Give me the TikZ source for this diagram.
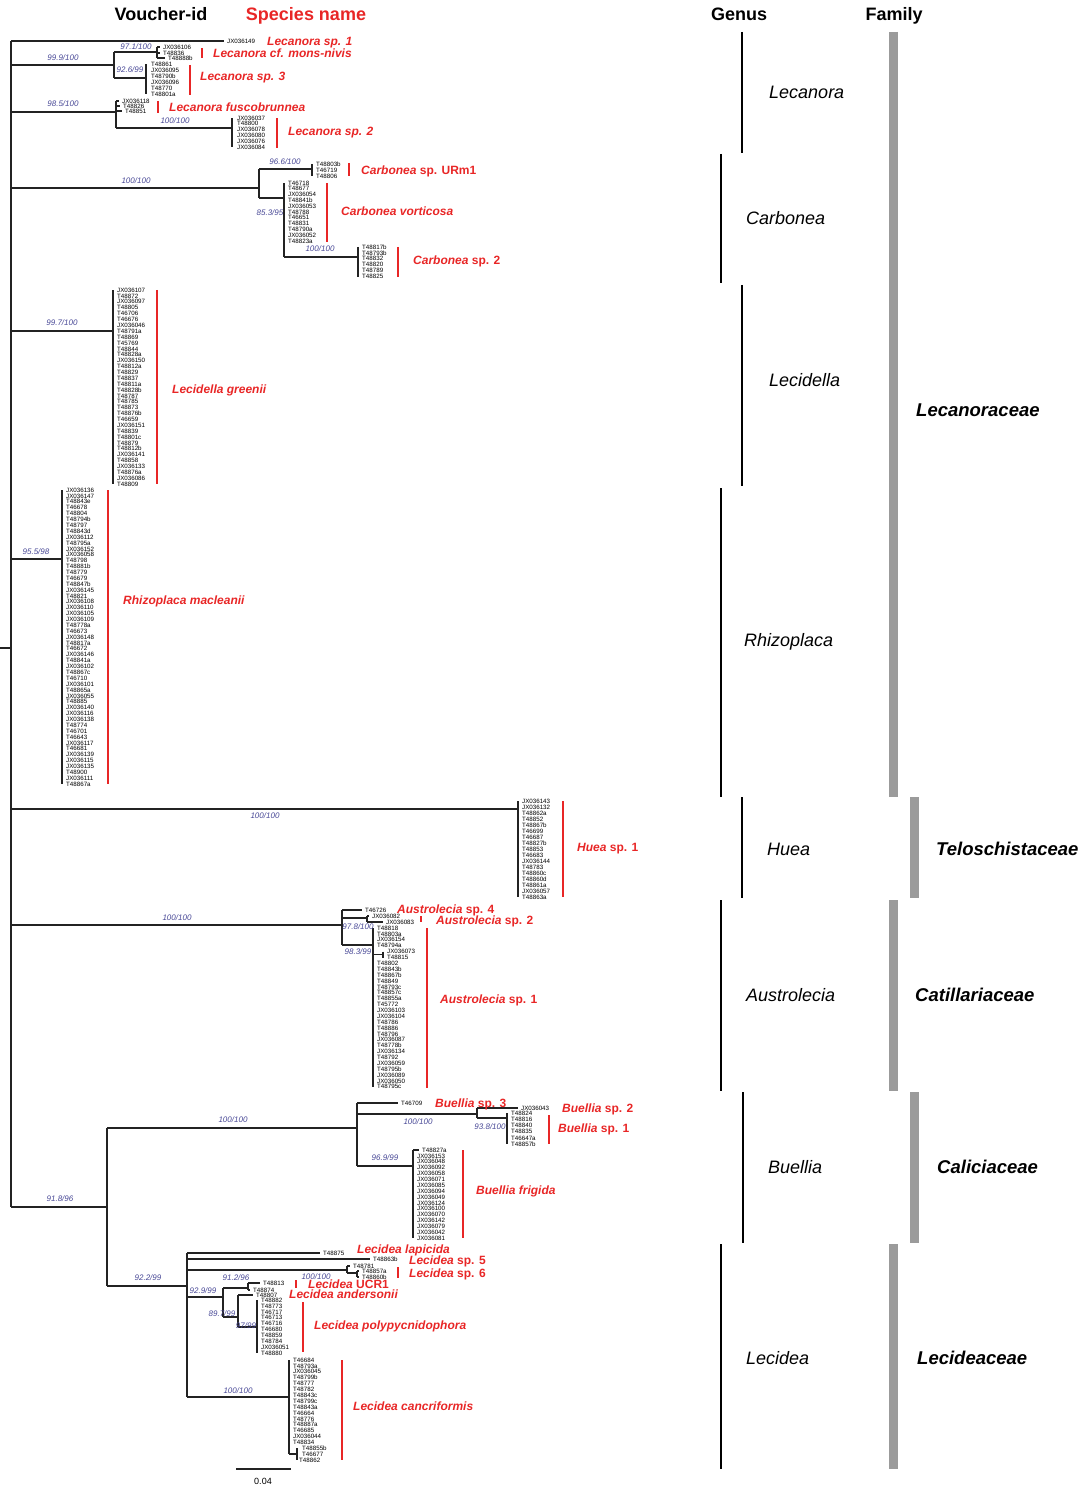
\documentclass[tikz,border=0pt]{standalone}
\usepackage{fontspec}
\setmainfont{Liberation Sans}
\definecolor{spred}{RGB}{232,38,38}
\definecolor{supblue}{RGB}{72,72,150}
\definecolor{famgray}{RGB}{155,155,155}
\definecolor{brgray}{RGB}{35,35,35}
\tikzset{
  br/.style={draw=brgray, line width=1.1pt},
  vid/.style={anchor=base west, inner sep=0pt, yshift=-2.2pt, font=\fontsize{6.2}{6.2}\selectfont},
  sup/.style={anchor=base, inner sep=0pt, yshift=-2.9pt, text=supblue, font=\fontsize{8}{8}\selectfont\itshape},
  sptext/.style={anchor=base west, inner sep=0pt, yshift=-4.3pt, text=spred, font=\fontsize{12}{12}\selectfont\bfseries\itshape},
  spbar/.style={draw=spred, line width=1.2pt},
  genbar/.style={draw=black, line width=2pt},
  gentext/.style={anchor=base west, inner sep=0pt, yshift=-6.4pt, font=\fontsize{18}{18}\selectfont\itshape},
  fambar/.style={draw=famgray, line width=9pt},
  famtext/.style={anchor=base west, inner sep=0pt, yshift=-6.6pt, font=\fontsize{18.5}{18.5}\selectfont\bfseries\itshape},
  head/.style={anchor=base, inner sep=0pt, yshift=-6.4pt, font=\fontsize{18}{18}\selectfont\bfseries},
  sbtext/.style={anchor=base, inner sep=0pt, yshift=-3.2pt, font=\fontsize{9}{9}\selectfont},
}
\newcommand\vlist[5]{\foreach \vv [count=\i from 0] in {#5} {\node[vid] (#1-\i) at ({#2},{#3+\i*#4}) {\vv};}}
\newcommand\tipleaf[5]{\coordinate (#1) at (#3,#4); \draw[br] (#2 |- #1) -- (#1); \node[vid] (#1-t) at ({#3+3},#4) {#5};}
\begin{document}
\begin{tikzpicture}[x=1pt,y=-1pt]
\useasboundingbox (0,0) rectangle (1079,1487);
% headers
\node[head] (hv) at (161,14) {Voucher-id};
\node[head,text=spred] (hs) at (306,14) {Species name};
\node[head] (hg) at (739,14) {Genus};
\node[head] (hf) at (894,14) {Family};

% ---------- root ----------
\coordinate (root) at (11,648);
\coordinate (rootstub) at (0,648);
\draw[br] (rootstub) -- (root);
\coordinate (L1) at (114,65);
\coordinate (L2) at (116,112);
\coordinate (C) at (259,188);
\coordinate (LG) at (113,331);
\coordinate (RM) at (62,559);
\coordinate (HU) at (518,809);
\coordinate (AU) at (342,925);
\coordinate (BL) at (107,1207);
\tipleaf{t1}{root}{224}{41}{JX036149}
\draw[br] (root |- t1) -- (root |- BL);
\foreach \c in {L1,L2,C,LG,RM,HU,AU,BL} \draw[br] (root |- \c) -- (\c);

% ---------- Lecanora ----------
\coordinate (M) at (157,52);
\coordinate (N) at (146,78);
\draw[br] (L1 |- M) -- (L1 |- N);
\draw[br] (L1 |- M) -- (M);
\draw[br] (L1 |- N) -- (N);
\tipleaf{m1}{M}{160}{47}{JX036106}
\tipleaf{m2}{M}{160}{53}{T48836}
\tipleaf{m3}{M}{165}{58}{T48888b}
\draw[br] (M |- m1) -- (M |- m3);
\vlist{n}{151}{64}{6}{T48861,JX036095,T48790b,JX036096,T48770,T48801a}
\draw[br] (N |- n-0) -- (N |- n-5);
\coordinate (O) at (232,128);
\tipleaf{f1}{L2}{119}{101}{JX036118}
\tipleaf{f2}{L2}{120}{106}{T48826}
\tipleaf{f3}{L2}{122}{111}{T48851}
\draw[br] (L2 |- f1) -- (L2 |- O);
\draw[br] (L2 |- O) -- (O);
\vlist{o}{237}{118}{5.8}{JX036037,T48800,JX036078,JX036080,JX036076,JX036084}
\draw[br] (O |- o-0) -- (O |- o-5);

% ---------- Carbonea ----------
\coordinate (P) at (312,169);
\coordinate (Q) at (284,198);
\draw[br] (C |- P) -- (C |- Q);
\draw[br] (C |- P) -- (P);
\draw[br] (C |- Q) -- (Q);
\vlist{p}{316}{164}{6}{T48803b,T46719,T48806}
\draw[br] (P |- p-0) -- (P |- p-2);
\coordinate (R) at (358,257);
\vlist{q}{288}{183}{5.8}{T46718,T48677,JX036054,T48841b,JX036053,T48788,T46651,T48831,T48790a,JX036052,T48823a}
\draw[br] (Q |- q-0) -- (Q |- R);
\draw[br] (Q |- R) -- (R);
\vlist{r}{362}{247}{5.9}{T48817b,T48793b,T48832,T48820,T48789,T48825}
\draw[br] (R |- r-0) -- (R |- r-5);

% ---------- Lecidella ----------
\vlist{lg}{117}{290}{5.88}{JX036107,T48872,JX036097,T48805,T46706,T46676,JX036046,T48791a,T48869,T45769,T48844,T48828a,JX036150,T48812a,T48829,T48837,T48811a,T48828b,T48787,T48785,T48873,T48876b,T46659,JX036151,T48839,T48801c,T48879,T48812b,JX036141,T48858,JX036133,T48876a,JX036086,T48809}
\draw[br] (LG |- lg-0) -- (LG |- lg-33);

% ---------- Rhizoplaca ----------
\vlist{rm}{66}{490}{5.88}{JX036136,JX036147,T48843e,T46678,T48804,T48794b,T48797,T48843d,JX036112,T48795a,JX036152,JX036058,T48798,T48881b,T48779,T46679,T48847b,JX036145,T48821,JX036108,JX036110,JX036105,JX036109,T48778a,T46673,JX036148,T48817a,T46672,JX036146,T48841a,JX036102,T48867c,T46710,JX036101,T48865a,JX036055,T48885,JX036140,JX036116,JX036138,T48774,T46701,T46643,JX036117,T46681,JX036139,JX036115,JX036135,T48900,JX036111,T48867a}
\draw[br] (RM |- rm-0) -- (RM |- rm-50);

% ---------- Huea ----------
\vlist{hu}{522}{801}{6}{JX036143,JX036132,T48862a,T48852,T48867b,T46699,T46687,T48827b,T48853,T46683,JX036144,T48783,T48860c,T48860d,T48861a,JX036057,T48863a}
\draw[br] (HU |- hu-0) -- (HU |- hu-16);

% ---------- Austrolecia ----------
\coordinate (AU2) at (367,918);
\coordinate (AS1) at (373,945);
\tipleaf{a1}{AU}{362}{910}{T46726}
\draw[br] (AU |- a1) -- (AU |- AS1);
\draw[br] (AU |- AU2) -- (AU2);
\draw[br] (AU |- AS1) -- (AS1);
\tipleaf{a2}{AU2}{369}{916}{JX036082}
\tipleaf{a3}{AU2}{383}{922}{JX036083}
\draw[br] (AU2 |- a2) -- (AU2 |- a3);
\vlist{as}{377}{928}{5.88}{T48818,T48803a,JX036154,T48794a}
\coordinate (AS2) at (383,954.5);
\draw[br] (AS1 |- AS2) -- (AS2);
\node[vid] (as2-0) at (387,951.6) {JX036073};
\node[vid] (as2-1) at (387,957.5) {T48815};
\draw[br] (AS2 |- as2-0) -- (AS2 |- as2-1);
\foreach \vv [count=\i from 6] in {T48802,T48843b,T48867b,T48849,T48793c,T48857c,T48855a,T45772,JX036103,JX036104,T48786,T48886,T48796,JX036087,T48778b,JX036134,T48792,JX036059,T48795b,JX036089,JX036050,T48795c} {\node[vid] (as-\i) at (377,{928+\i*5.88}) {\vv};}
\draw[br] (AS1 |- as-0) -- (AS1 |- as-27);

% ---------- Buellia ----------
\coordinate (B) at (357,1128);
\coordinate (LD) at (187,1286);
\draw[br] (BL |- B) -- (BL |- LD);
\draw[br] (BL |- B) -- (B);
\draw[br] (BL |- LD) -- (LD);
\coordinate (B2) at (477,1114);
\coordinate (BF) at (413,1166);
\tipleaf{b1}{B}{398}{1103}{T46709}
\draw[br] (B |- b1) -- (B |- BF);
\draw[br] (B |- B2) -- (B2);
\draw[br] (B |- BF) -- (BF);
\coordinate (B3) at (507,1118);
\tipleaf{b2}{B2}{518}{1108}{JX036043}
\draw[br] (B2 |- b2) -- (B2 |- B3);
\draw[br] (B2 |- B3) -- (B3);
\vlist{bb}{511}{1113}{6.2}{T48824,T48816,T48840,T48835,T46647a,T48857b}
\draw[br] (B3 |- bb-0) -- (B3 |- bb-5);
\tipleaf{bf0}{BF}{419}{1150}{T48827a}
\foreach \vv [count=\i from 1] in {JX036153,JX036048,JX036092,JX036058,JX036071,JX036085,JX036094,JX036049,JX036124,JX036100,JX036070,JX036142,JX036079,JX036042,JX036081} {\node[vid] (bf-\i) at (417,{1150+\i*5.87}) {\vv};}
\draw[br] (BF |- bf0) -- (BF |- bf-15);

% ---------- Lecidea ----------
\coordinate (S6) at (347,1270);
\coordinate (U) at (223,1297);
\coordinate (Y) at (289,1397);
\tipleaf{d1}{LD}{320}{1253}{T48875}
\tipleaf{d2}{LD}{370}{1259}{T48863b}
\draw[br] (LD |- d1) -- (LD |- Y);
\foreach \c in {S6,U,Y} \draw[br] (LD |- \c) -- (\c);
\coordinate (S6b) at (357,1273);
\tipleaf{d3}{S6}{350}{1266}{T48781}
\draw[br] (S6 |- d3) -- (S6 |- S6b);
\draw[br] (S6 |- S6b) -- (S6b);
\tipleaf{d4}{S6b}{359}{1271}{T48857a}
\tipleaf{d5}{S6b}{359}{1277}{T48860b}
\draw[br] (S6b |- d4) -- (S6b |- d5);
\coordinate (V) at (248,1288);
\coordinate (W) at (238,1317);
\draw[br] (U |- V) -- (U |- W);
\draw[br] (U |- V) -- (V);
\draw[br] (U |- W) -- (W);
\tipleaf{d6}{V}{260}{1283}{T48813}
\tipleaf{d7}{V}{250}{1290}{T48874}
\draw[br] (V |- d6) -- (V |- d7);
\coordinate (X) at (257,1327);
\tipleaf{d8}{W}{253}{1295}{T48807}
\draw[br] (W |- d8) -- (W |- X);
\draw[br] (W |- X) -- (X);
\vlist{x}{261}{1300}{5.9}{T48882,T48773,T46717,T46713,T46716,T46680,T48859,T48784,JX036051,T48880}
\draw[br] (X |- x-0) -- (X |- x-9);
\vlist{y}{293}{1360}{5.88}{T46684,T48793a,JX036045,T48799b,T48777,T48782,T48843c,T48799c,T48843a,T46664,T48776,T48887a,T46685,JX036044,T48834}
\coordinate (Y2) at (297,1454);
\draw[br] (Y |- y-0) -- (Y |- Y2);
\draw[br] (Y |- Y2) -- (Y2);
\node[vid] (y2-0) at (302,1448) {T48855b};
\node[vid] (y2-1) at (302,1454) {T46677};
\node[vid] (y2-2) at (299,1460) {T48862};
\draw[br] (Y2 |- y2-0) -- (Y2 |- y2-2);

% ---------- support values ----------
\node[sup] (s1) at (63,58) {99.9/100};
\node[sup] (s2) at (136,47) {97.1/100};
\node[sup] (s3) at (130,70) {92.6/99};
\node[sup] (s4) at (63,104) {98.5/100};
\node[sup] (s5) at (175,121) {100/100};
\node[sup] (s6) at (136,181) {100/100};
\node[sup] (s7) at (285,162) {96.6/100};
\node[sup] (s8) at (270,213) {85.3/95};
\node[sup] (s9) at (320,249) {100/100};
\node[sup] (s10) at (62,323) {99.7/100};
\node[sup] (s11) at (36,552) {95.5/98};
\node[sup] (s12) at (265,816) {100/100};
\node[sup] (s13) at (177,918) {100/100};
\node[sup] (s14) at (358,927) {97.8/100};
\node[sup] (s15) at (358,952) {98.3/99};
\node[sup] (s16) at (60,1199) {91.8/96};
\node[sup] (s17) at (233,1120) {100/100};
\node[sup] (s18) at (418,1122) {100/100};
\node[sup] (s19) at (490,1127) {93.8/100};
\node[sup] (s20) at (385,1158) {96.9/99};
\node[sup] (s21) at (148,1278) {92.2/99};
\node[sup] (s22) at (236,1278) {91.2/96};
\node[sup] (s23) at (316,1277) {100/100};
\node[sup] (s24) at (203,1291) {92.9/99};
\node[sup] (s25) at (222,1314) {89.7/99};
\node[sup] (s26) at (246,1326) {97/99};
\node[sup] (s27) at (238,1391) {100/100};

% ---------- species bars and names ----------
\draw[spbar] (202,48) -- (202,58);
\draw[spbar] (190,65) -- (190,95);
\draw[spbar] (158,101) -- (158,113);
\draw[spbar] (277,118) -- (277,148);
\draw[spbar] (349,163) -- (349,176);
\draw[spbar] (327,183) -- (327,242);
\draw[spbar] (398,247) -- (398,277);
\draw[spbar] (157,290) -- (157,484);
\draw[spbar] (108,490) -- (108,784);
\draw[spbar] (563,801) -- (563,897);
\draw[spbar] (421,916) -- (421,922);
\draw[spbar] (427,928) -- (427,1088);
\draw[spbar] (549,1115) -- (549,1144);
\draw[spbar] (463,1150) -- (463,1238);
\draw[spbar] (398,1267) -- (398,1278);
\draw[spbar] (296,1280) -- (296,1288);
\draw[spbar] (303,1302) -- (303,1352);
\draw[spbar] (342,1360) -- (342,1460);

\node[sptext] (n1) at (267,41) {Lecanora sp. 1};
\node[sptext] (n2) at (213,53) {Lecanora cf. mons-nivis};
\node[sptext] (n3) at (200,76) {Lecanora sp. 3};
\node[sptext] (n4) at (169,107) {Lecanora fuscobrunnea};
\node[sptext] (n5) at (288,131) {Lecanora sp. 2};
\node[sptext] (n6) at (361,170) {Carbonea {\upshape sp. URm1}};
\node[sptext] (n7) at (341,211) {Carbonea vorticosa};
\node[sptext] (n8) at (413,260) {Carbonea {\upshape sp. 2}};
\node[sptext] (n9) at (172,389) {Lecidella greenii};
\node[sptext] (n10) at (123,600) {Rhizoplaca macleanii};
\node[sptext] (n11) at (577,847) {Huea {\upshape sp. 1}};
\node[sptext] (n12) at (397,909) {Austrolecia {\upshape sp. 4}};
\node[sptext] (n13) at (436,920) {Austrolecia {\upshape sp. 2}};
\node[sptext] (n14) at (440,999) {Austrolecia {\upshape sp. 1}};
\node[sptext] (n15) at (435,1103) {Buellia {\upshape sp. 3}};
\node[sptext] (n16) at (562,1108) {Buellia {\upshape sp. 2}};
\node[sptext] (n17) at (558,1128) {Buellia {\upshape sp. 1}};
\node[sptext] (n18) at (476,1190) {Buellia frigida};
\node[sptext] (n19) at (357,1249) {Lecidea lapicida};
\node[sptext] (n20) at (409,1260) {Lecidea {\upshape sp. 5}};
\node[sptext] (n21) at (409,1273) {Lecidea {\upshape sp. 6}};
\node[sptext] (n22) at (308,1284) {Lecidea {\upshape UCR1}};
\node[sptext] (n23) at (289,1294) {Lecidea andersonii};
\node[sptext] (n24) at (314,1325) {Lecidea polypycnidophora};
\node[sptext] (n25) at (353,1406) {Lecidea cancriformis};

% ---------- scale bar ----------
\coordinate (sb1) at (236,1469);
\coordinate (sb2) at (291,1469);
\draw[br] (sb1) -- (sb2);
\node[sbtext] (sbl) at (263,1481) {0.04};

% ---------- genus bars ----------
\draw[genbar] (742,32) -- (742,153);
\draw[genbar] (721,154) -- (721,283);
\draw[genbar] (742,285) -- (742,486);
\draw[genbar] (721,488) -- (721,797);
\draw[genbar] (742,797) -- (742,898);
\draw[genbar] (721,900) -- (721,1091);
\draw[genbar] (743,1092) -- (743,1243);
\draw[genbar] (721,1244) -- (721,1469);
\node[gentext] (g1) at (769,92) {Lecanora};
\node[gentext] (g2) at (746,218) {Carbonea};
\node[gentext] (g3) at (769,380) {Lecidella};
\node[gentext] (g4) at (744,640) {Rhizoplaca};
\node[gentext] (g5) at (767,849) {Huea};
\node[gentext] (g6) at (746,995) {Austrolecia};
\node[gentext] (g7) at (768,1167) {Buellia};
\node[gentext] (g8) at (746,1358) {Lecidea};

% ---------- family bars ----------
\draw[fambar] (893.5,32) -- (893.5,797);
\draw[fambar] (914,797) -- (914,898);
\draw[fambar] (893.5,900) -- (893.5,1091);
\draw[fambar] (914.5,1092) -- (914.5,1243);
\draw[fambar] (893.5,1244) -- (893.5,1469);
\node[famtext] (fa1) at (916,410) {Lecanoraceae};
\node[famtext] (fa2) at (936,849) {Teloschistaceae};
\node[famtext] (fa3) at (915,995) {Catillariaceae};
\node[famtext] (fa4) at (937,1167) {Caliciaceae};
\node[famtext] (fa5) at (917,1358) {Lecideaceae};
\end{tikzpicture}
\end{document}
